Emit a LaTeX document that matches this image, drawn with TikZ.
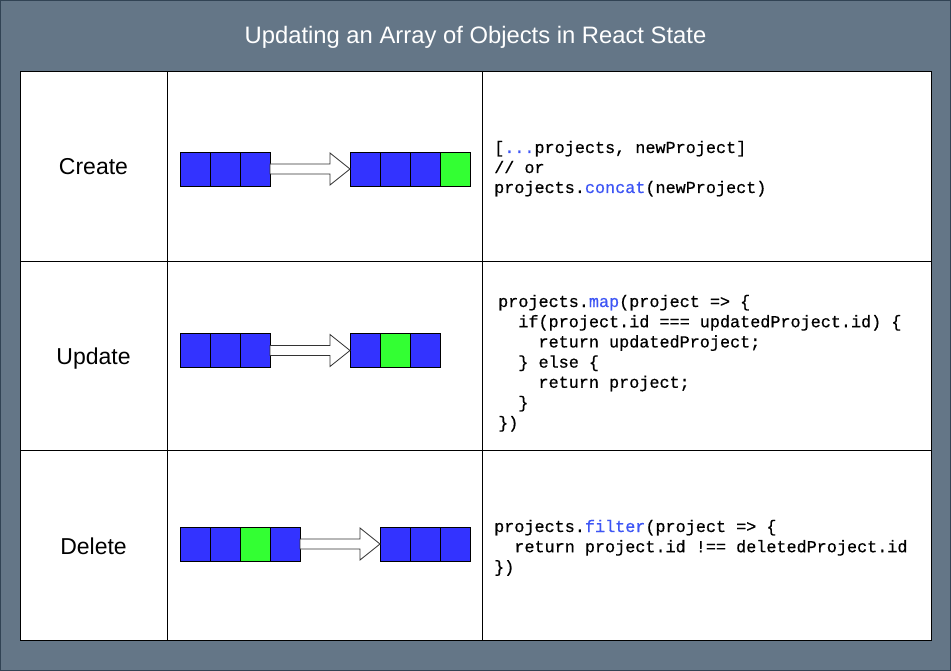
\documentclass[tikz,border=0pt]{standalone}
\usepackage{fontspec}
\setmainfont{Liberation Sans}
\newfontfamily\codefam[FakeBold=0.6]{Liberation Mono}
\usetikzlibrary{calc}
\definecolor{bgslate}{HTML}{647687}
\definecolor{bgborder}{HTML}{314354}
\definecolor{cblue}{HTML}{3333FF}
\definecolor{cgreen}{HTML}{33FF33}
\definecolor{kw}{HTML}{3D55F5}
\definecolor{arrowline}{HTML}{333333}
\newcommand{\codefont}{\codefam\fontsize{16.8}{20}\selectfont}
\newcommand{\lblfont}{\fontsize{23}{27}\selectfont}
\newcommand{\ttlfont}{\fontsize{23.8}{28}\selectfont}
\newcommand{\kwd}[1]{\textcolor{kw}{#1}}
\newcommand{\blockarrow}[2]{%
  \draw[arrowshape] ($(#1.east)+(0,-5)$) -- ($(#2.west)+(-20,-5)$) -- ($(#2.west)+(-20,-16)$)
    -- (#2.west) -- ($(#2.west)+(-20,16)$) -- ($(#2.west)+(-20,5)$) -- ($(#1.east)+(0,5)$) -- cycle;}
\tikzset{
  cell/.style={draw=black, line width=0.8pt, minimum width=30pt, minimum height=34pt, inner sep=0pt, outer sep=0pt},
  bcell/.style={cell, fill=cblue},
  gcell/.style={cell, fill=cgreen},
  arrowshape/.style={draw=arrowline, fill=white, line width=0.8pt, line join=miter},
  codeline/.style={anchor=base west, inner sep=0pt, font=\codefont, text=black},
  rowlabel/.style={anchor=base, inner sep=0pt, font=\lblfont, text=black},
  tableline/.style={draw=black, line width=1pt}
}
\begin{document}
\begin{tikzpicture}[x=1pt, y=-1pt]
\useasboundingbox (0,0) rectangle (951,671);
% background
\fill[bgslate] (0,0) rectangle (951,671);
\draw[bgborder, line width=1pt] (0.5,0.5) rectangle (950.5,670.5);
% title
\node[anchor=base, inner sep=0pt, font=\ttlfont, text=white] (title) at (475.5,43.5) {Updating an Array of Objects in React State};
% table
\fill[white] (20,72) rectangle (931,640);
\draw[tableline] (20,72) rectangle (931,640);
\draw[tableline] (167,72) -- (167,640);
\draw[tableline] (482,72) -- (482,640);
\draw[tableline] (20,261.3) -- (931,261.3);
\draw[tableline] (20,450.7) -- (931,450.7);
% row labels
\node[rowlabel] (lcreate) at (93.5,175) {Create};
\node[rowlabel] (lupdate) at (93.5,364.5) {Update};
\node[rowlabel] (ldelete) at (93.5,554) {Delete};
% Create row arrays
\node[bcell] (ca1) at (195,169) {};
\node[bcell] (ca2) at (225,169) {};
\node[bcell] (ca3) at (255,169) {};
\node[bcell] (cb1) at (365,169) {};
\node[bcell] (cb2) at (395,169) {};
\node[bcell] (cb3) at (425,169) {};
\node[gcell] (cb4) at (455,169) {};
\blockarrow{ca3}{cb1}
% Update row arrays
\node[bcell] (ua1) at (195,350.5) {};
\node[bcell] (ua2) at (225,350.5) {};
\node[bcell] (ua3) at (255,350.5) {};
\node[bcell] (ub1) at (365,350.5) {};
\node[gcell] (ub2) at (395,350.5) {};
\node[bcell] (ub3) at (425,350.5) {};
\blockarrow{ua3}{ub1}
% Delete row arrays
\node[bcell] (da1) at (195,544) {};
\node[bcell] (da2) at (225,544) {};
\node[gcell] (da3) at (255,544) {};
\node[bcell] (da4) at (285,544) {};
\node[bcell] (db1) at (395,544) {};
\node[bcell] (db2) at (425,544) {};
\node[bcell] (db3) at (455,544) {};
\blockarrow{da4}{db1}
% Create code
\node[codeline] (cc1) at (494,153) {[\kwd{...}projects, newProject]};
\node[codeline] (cc2) at (494,173) {// or};
\node[codeline] (cc3) at (494,193) {projects.\kwd{concat}(newProject)};
% Update code
\node[codeline] (uc1) at (498,307) {projects.\kwd{map}(project => \{};
\node[codeline] (uc2) at (498,327.2) {\phantom{xx}if(project.id === updatedProject.id) \{};
\node[codeline] (uc3) at (498,347.4) {\phantom{xxxx}return updatedProject;};
\node[codeline] (uc4) at (498,367.6) {\phantom{xx}\} else \{};
\node[codeline] (uc5) at (498,387.8) {\phantom{xxxx}return project;};
\node[codeline] (uc6) at (498,408) {\phantom{xx}\}};
\node[codeline] (uc7) at (498,428.2) {\})};
% Delete code
\node[codeline] (dc1) at (494,532) {projects.\kwd{filter}(project => \{};
\node[codeline] (dc2) at (494,552.2) {\phantom{xx}return project.id !== deletedProject.id};
\node[codeline] (dc3) at (494,572.4) {\})};
\end{tikzpicture}
\end{document}
